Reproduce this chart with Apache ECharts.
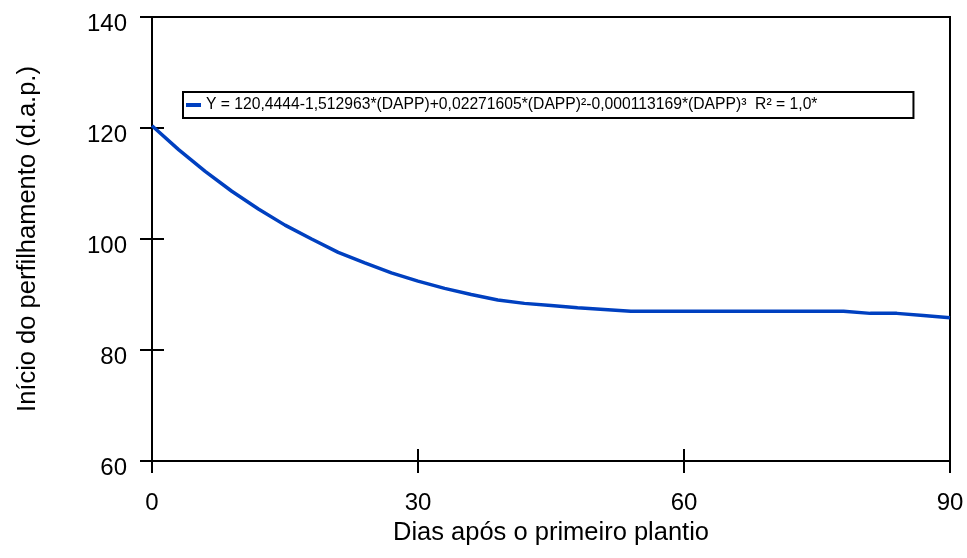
<!DOCTYPE html>
<html>
<head>
<meta charset="utf-8">
<script src="https://cdn.jsdelivr.net/npm/echarts@6/dist/echarts.min.js"></script>
<style>
html,body{margin:0;padding:0;background:#fff;}
#chart{width:967px;height:558px;}
</style>
</head>
<body>
<div id="chart"></div>
<script>
const days = [0,3,6,9,12,15,18,21,24,27,30,33,36,39,42,45,48,51,54,57,60,63,66,69,72,75,78,81,84,87,90];
const inicio = [120.4,116.1,112.2,108.6,105.4,102.5,100.0,97.6,95.7,93.9,92.4,91.1,90.0,89.0,88.4,88.0,87.6,87.3,87.0,87.0,87.0,87.0,87.0,87.0,87.0,87.0,87.0,86.6,86.6,86.2,85.8];
const xTicks = [0,30,60,90];
const yTicks = [60,80,100,120,140];
const seriesName = 'Y = 120,4444-1,512963*(DAPP)+0,02271605*(DAPP)²-0,000113169*(DAPP)³  R² = 1,0*';
const xTitle = 'Dias após o primeiro plantio';
const yTitle = 'Início do perfilhamento (d.a.p.)';

const FONT = '"Liberation Sans", Arial, sans-serif';
const chart = echarts.init(document.getElementById('chart'), null, {renderer:'canvas'});
const axisLineStyle = {color:'#000', width:2};
chart.setOption({
  animation:false,
  backgroundColor:'#fff',
  grid:{left:152, right:17, top:17, bottom:97, show:true, borderColor:'#000', borderWidth:2, backgroundColor:'transparent'},
  legend:{
    left:183, top:92,
    padding:[5,96,5,3],
    borderColor:'#000', borderWidth:2,
    icon:'rect', itemWidth:15, itemHeight:4,
    textStyle:{fontFamily:FONT, fontSize:15.7, color:'#000'},
    data:[seriesName]
  },
  xAxis:[{
    type:'value', min:xTicks[0], max:xTicks[xTicks.length-1], interval:30, position:'bottom',
    axisLine:{show:true, lineStyle:axisLineStyle},
    axisTick:{show:true, inside:false, length:12, lineStyle:axisLineStyle},
    axisLabel:{fontFamily:FONT, fontSize:24, color:'#000', margin:30},
    splitLine:{show:false},
    name:xTitle, nameLocation:'middle', nameGap:41,
    nameTextStyle:{fontFamily:FONT, fontSize:25.5, color:'#000'}
  },{
    type:'value', min:xTicks[0], max:xTicks[xTicks.length-1], interval:30, position:'bottom',
    axisLine:{show:false},
    axisTick:{show:true, inside:true, length:12, lineStyle:axisLineStyle},
    axisLabel:{show:false}, splitLine:{show:false}
  }],
  yAxis:[{
    type:'value', min:yTicks[0], max:yTicks[yTicks.length-1], interval:20, position:'left',
    axisLine:{show:true, lineStyle:axisLineStyle},
    axisTick:{show:true, inside:false, length:12, lineStyle:axisLineStyle},
    axisLabel:{fontFamily:FONT, fontSize:24, color:'#000', margin:25, verticalAlign:'top', lineHeight:14},
    splitLine:{show:false},
    name:yTitle, nameLocation:'middle', nameGap:111,
    nameTextStyle:{fontFamily:FONT, fontSize:25.5, color:'#000'}
  },{
    type:'value', min:yTicks[0], max:yTicks[yTicks.length-1], interval:20, position:'left',
    axisLine:{show:false},
    axisTick:{show:true, inside:true, length:12, lineStyle:axisLineStyle},
    axisLabel:{show:false}, splitLine:{show:false}
  }],
  series:[{
    name:seriesName, type:'line', xAxisIndex:0, yAxisIndex:0,
    data: days.map((d,i)=>[d, inicio[i]]),
    showSymbol:false, smooth:false,
    lineStyle:{color:'#0040c0', width:3.5},
    itemStyle:{color:'#0040c0'}
  }]
});
</script>
</body>
</html>
